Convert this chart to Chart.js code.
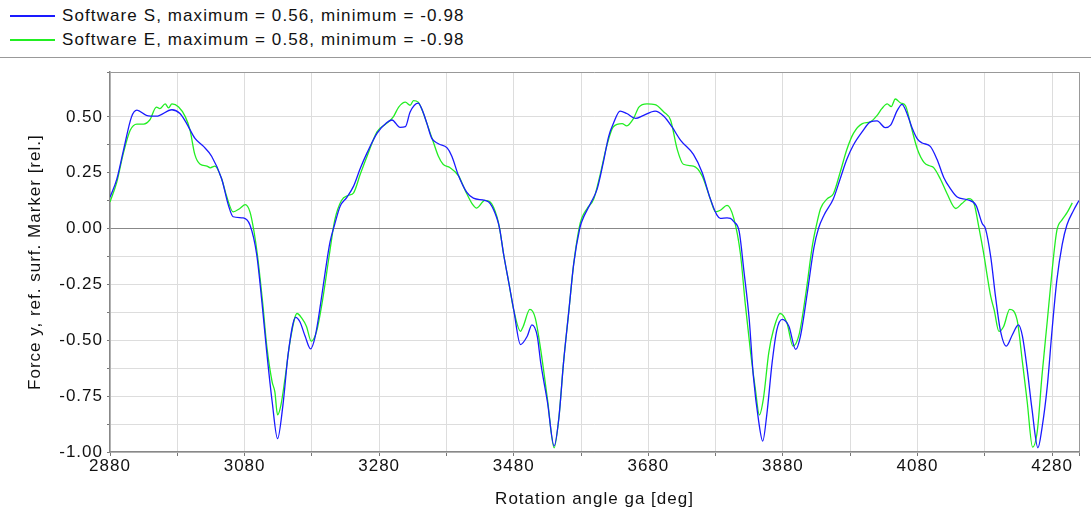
<!DOCTYPE html>
<html>
<head>
<meta charset="utf-8">
<script src="https://cdn.jsdelivr.net/npm/chart.js@4/dist/chart.umd.min.js"></script>
<style>
  body { margin: 0; background: #fff; font-family: "Liberation Sans", Arial, sans-serif; }
  #legend { position: absolute; left: 0; top: 0; width: 1091px; height: 57px; border-bottom: 1px solid #999; }
  .row { position: absolute; left: 0; height: 24px; width: 700px; }
  .swatch { position: absolute; left: 10px; top: 11px; width: 45px; height: 2px; }
  .label { position: absolute; left: 62px; top: 0; font-size: 17px; line-height: 24px; color: #111; white-space: nowrap; letter-spacing: 1.1px; }
  #wrap { position: absolute; left: 0; top: 58px; width: 1091px; height: 458px; }
</style>
</head>
<body>
<div id="legend"></div>
<div id="wrap"><canvas id="chart" width="1091" height="458"></canvas></div>
<script>
// Rotation angle [deg] and force [rel.]
const sAngles = [2880, 2890, 2900, 2912, 2920, 2934, 2949, 2972, 2984, 2994, 3006, 3019, 3031, 3046, 3056, 3063, 3078, 3088, 3098, 3106,
  3113, 3121, 3129, 3137, 3145, 3156, 3162, 3170, 3178, 3185, 3193, 3200, 3207, 3214, 3222, 3232, 3242, 3252, 3262, 3277,
  3291, 3299, 3311, 3319, 3326, 3338, 3346, 3351, 3358, 3368, 3381, 3388, 3398, 3410, 3420, 3437, 3445, 3455, 3459, 3465,
  3473, 3480, 3490, 3500, 3507, 3515, 3520, 3530, 3540, 3547, 3554, 3562, 3569, 3578, 3581, 3594, 3604, 3613, 3621, 3628,
  3638, 3648, 3661, 3673, 3690, 3703, 3715, 3728, 3747, 3760, 3772, 3782, 3787, 3797, 3802, 3807, 3815, 3822, 3830, 3836,
  3844, 3850, 3856, 3864, 3871, 3879, 3889, 3899, 3906, 3916, 3926, 3933, 3941, 3955, 3965, 3975, 3985, 3998, 4010, 4020,
  4032, 4040, 4050, 4057, 4065, 4072, 4080, 4087, 4099, 4109, 4119, 4129, 4139, 4154, 4167, 4176, 4181, 4189, 4196, 4203,
  4212, 4221, 4230, 4236, 4243, 4250, 4259, 4265, 4273, 4280, 4287, 4295, 4302, 4312, 4320];
const sForce = [0.14, 0.22, 0.35, 0.50, 0.53, 0.507, 0.503, 0.532, 0.515, 0.47, 0.405, 0.368, 0.324, 0.222, 0.104, 0.053, 0.048, 0.016, -0.116, -0.336,
  -0.555, -0.775, -0.94, -0.79, -0.555, -0.397, -0.416, -0.482, -0.538, -0.482, -0.336, -0.19, -0.06, 0.02, 0.10, 0.14, 0.19, 0.27, 0.339, 0.427,
  0.474, 0.486, 0.453, 0.456, 0.522, 0.562, 0.515, 0.47, 0.405, 0.38, 0.361, 0.324, 0.236, 0.163, 0.136, 0.126, 0.112, 0.046, 0.0, -0.116,
  -0.248, -0.365, -0.519, -0.482, -0.431, -0.482, -0.599, -0.775, -0.973, -0.849, -0.599, -0.365, -0.16, 0.0, 0.031, 0.112, 0.178, 0.295, 0.412, 0.47,
  0.526, 0.515, 0.493, 0.507, 0.526, 0.503, 0.456, 0.395, 0.332, 0.251, 0.134, 0.06, 0.046, 0.048, 0.046, 0.031, -0.013, -0.189, -0.409, -0.658,
  -0.863, -0.951, -0.834, -0.599, -0.453, -0.406, -0.438, -0.541, -0.482, -0.292, -0.086, 0.002, 0.06, 0.134, 0.222, 0.31, 0.375, 0.434, 0.478, 0.482,
  0.452, 0.463, 0.529, 0.556, 0.51, 0.45, 0.40, 0.383, 0.368, 0.31, 0.229, 0.178, 0.141, 0.129, 0.104, 0.024, 0.0, -0.13, -0.306, -0.453,
  -0.526, -0.475, -0.431, -0.482, -0.629, -0.805, -0.981, -0.893, -0.702, -0.453, -0.233, -0.072, 0.016, 0.082, 0.126];

const eAngles = [2880, 2890, 2900, 2910, 2920, 2930, 2939, 2949, 2954, 2962, 2967, 2972, 2982, 2992, 2999, 3006, 3014, 3024, 3029, 3036,
  3046, 3053, 3063, 3073, 3081, 3088, 3094, 3099, 3107, 3113, 3121, 3125, 3129, 3134, 3140, 3148, 3158, 3165, 3172, 3179,
  3187, 3195, 3206, 3214, 3224, 3234, 3242, 3252, 3262, 3277, 3291, 3301, 3309, 3319, 3326, 3331, 3338, 3343, 3351, 3361,
  3368, 3375, 3385, 3398, 3408, 3418, 3425, 3437, 3445, 3455, 3459, 3465, 3473, 3480, 3490, 3494, 3504, 3512, 3520, 3530,
  3540, 3547, 3554, 3562, 3569, 3577, 3581, 3589, 3599, 3608, 3618, 3628, 3641, 3648, 3658, 3666, 3678, 3690, 3703, 3713,
  3723, 3732, 3747, 3760, 3772, 3780, 3787, 3797, 3807, 3817, 3824, 3832, 3839, 3845, 3851, 3859, 3866, 3876, 3886, 3895,
  3904, 3914, 3924, 3931, 3936, 3946, 3955, 3965, 3975, 3985, 3998, 4010, 4020, 4027, 4035, 4041, 4047, 4055, 4062, 4070,
  4080, 4090, 4099, 4104, 4114, 4124, 4137, 4146, 4156, 4164, 4171, 4179, 4183, 4189, 4194, 4201, 4208, 4217, 4228, 4236,
  4243, 4251, 4258, 4265, 4273, 4280, 4287, 4295, 4302, 4310];
const eForce = [0.119, 0.207, 0.339, 0.44, 0.468, 0.468, 0.486, 0.544, 0.537, 0.558, 0.54, 0.558, 0.544, 0.50, 0.44, 0.332, 0.288, 0.28, 0.272, 0.28,
  0.222, 0.148, 0.075, 0.09, 0.107, 0.075, -0.013, -0.116, -0.336, -0.526, -0.687, -0.731, -0.834, -0.79, -0.673, -0.497, -0.38, -0.401, -0.438, -0.504,
  -0.46, -0.336, -0.116, 0.038, 0.126, 0.148, 0.16, 0.244, 0.324, 0.434, 0.471, 0.50, 0.544, 0.566, 0.552, 0.573, 0.566, 0.537, 0.47, 0.383,
  0.324, 0.288, 0.273, 0.236, 0.17, 0.112, 0.092, 0.126, 0.119, 0.053, 0.0, -0.116, -0.248, -0.365, -0.46, -0.438, -0.362, -0.401, -0.541, -0.761,
  -0.981, -0.849, -0.599, -0.365, -0.16, 0.0, 0.046, 0.09, 0.134, 0.236, 0.368, 0.456, 0.47, 0.46, 0.493, 0.544, 0.558, 0.555, 0.522, 0.486,
  0.354, 0.288, 0.28, 0.236, 0.134, 0.075, 0.082, 0.104, 0.046, -0.116, -0.336, -0.555, -0.717, -0.834, -0.761, -0.555, -0.453, -0.38, -0.423, -0.526,
  -0.475, -0.292, -0.072, 0.031, 0.09, 0.134, 0.156, 0.251, 0.354, 0.427, 0.47, 0.478, 0.507, 0.537, 0.558, 0.546, 0.58, 0.562, 0.551, 0.463,
  0.354, 0.295, 0.28, 0.273, 0.222, 0.156, 0.09, 0.112, 0.134, 0.112, 0.009, -0.123, -0.2, -0.306, -0.365, -0.46, -0.438, -0.362, -0.409, -0.599,
  -0.775, -0.978, -0.907, -0.658, -0.409, -0.189, -0.01, 0.04, 0.07, 0.115];

const seriesLabels = ['Software S, maximum = 0.56, minimum = -0.98', 'Software E, maximum = 0.58, minimum = -0.98'];
const seriesColors = ['#1a1aff', '#22ee22'];
const xTitle = 'Rotation angle ga [deg]';
const yTitle = 'Force y, ref. surf. Marker [rel.]';
const xMin = 2880, xMax = 4320, xStep = 100, xLabelStep = 200;
const yMin = -1.0, yMax = 0.7, yStep = 0.125, yLabelStep = 0.25;

// legend (html, so the separator rule can run across the whole page)
const legend = document.getElementById('legend');
seriesLabels.forEach((text, i) => {
  const row = document.createElement('div');
  row.className = 'row';
  row.style.top = (4 + i * 24) + 'px';
  row.innerHTML = `<span class="swatch" style="background:${seriesColors[i]}"></span><span class="label">${text}</span>`;
  legend.appendChild(row);
});

const toPoints = (xs, ys) => xs.map((x, i) => ({ x, y: ys[i] }));
const font = { family: '"Liberation Sans", Arial, sans-serif', size: 17 };
Chart.defaults.color = '#111';

// the original renders its text a little wider than Liberation Sans
const spacing = {
  id: 'spacing',
  beforeDraw(chart) { chart.ctx.letterSpacing = '1px'; },
};

new Chart(document.getElementById('chart'), {
  type: 'line',
  data: {
    datasets: [
      { label: seriesLabels[0], data: toPoints(sAngles, sForce), borderColor: seriesColors[0], borderWidth: 1.3,
        pointRadius: 0, cubicInterpolationMode: 'monotone' },
      { label: seriesLabels[1], data: toPoints(eAngles, eForce), borderColor: seriesColors[1], borderWidth: 1.3,
        pointRadius: 0, cubicInterpolationMode: 'monotone' },
    ],
  },
  plugins: [spacing],
  options: {
    responsive: false,
    devicePixelRatio: 1,
    animation: false,
    layout: { padding: { left: 0, right: 12, top: 6, bottom: 0 } },
    plugins: { legend: { display: false }, tooltip: { enabled: false } },
    scales: {
      x: {
        type: 'linear',
        min: xMin,
        max: xMax,
        afterFit: (scale) => { scale.height = 64; },
        afterBuildTicks: (scale) => {
          const ticks = [];
          for (let v = xMin; v < xMax; v += xStep) ticks.push({ value: v });
          ticks.push({ value: xMax });
          scale.ticks = ticks;
        },
        border: { color: '#888', width: 1.5 },
        grid: {
          color: (ctx) => (ctx.tick.value === xMax ? '#999' : '#dddddd'),
          tickColor: '#777',
          tickLength: 4,
        },
        ticks: {
          autoSkip: false,
          maxRotation: 0,
          padding: 0,
          font,
          callback: (v) => ((v - xMin) % xLabelStep === 0 ? String(v) : ''),
        },
        title: { display: true, text: xTitle, font, padding: { top: 0, bottom: 6 } },
      },
      y: {
        min: yMin,
        max: yMax,
        afterFit: (scale) => { scale.width = 110; },
        border: { color: '#888', width: 1.5 },
        grid: {
          color: (ctx) => {
            const v = ctx.tick.value;
            if (Math.abs(v) < 1e-9) return '#888';
            if (v === yMax) return '#999';
            return '#dddddd';
          },
          tickColor: '#777',
          tickLength: 3,
        },
        ticks: {
          stepSize: yStep,
          autoSkip: false,
          padding: 4,
          font,
          callback: (v) => {
            const r = (v - yMin) / yLabelStep;
            return Math.abs(r - Math.round(r)) < 1e-6 ? v.toFixed(2) : '';
          },
        },
        title: { display: true, text: yTitle, font, padding: { top: 25, bottom: 0 } },
      },
    },
  },
});
</script>
</body>
</html>
